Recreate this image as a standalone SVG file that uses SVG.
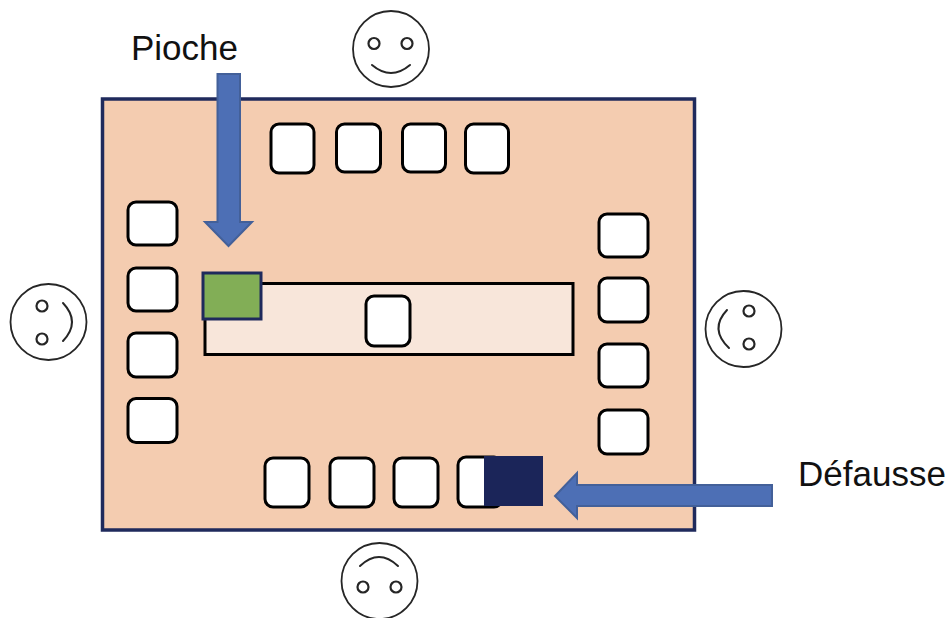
<svg xmlns="http://www.w3.org/2000/svg" width="948" height="618" viewBox="0 0 948 618">
<style>
.card{fill:#fff;stroke:#000;stroke-width:3}
.face{fill:#fff;stroke:#262626;stroke-width:1.8}
.eye{fill:none;stroke:#262626;stroke-width:2.200}
.mouth{fill:none;stroke:#262626;stroke-width:2;stroke-linecap:round}
.arrow{fill:#4d6fb5;stroke:#436099;stroke-width:2}
.label{font-family:"Liberation Sans",Arial,sans-serif;font-size:35px;fill:#111}
</style>
<rect width="948" height="618" fill="#fff"/>
<g id="table"><rect x="102.500" y="99" width="592" height="431" fill="#f4ccb0" stroke="#1f2a5c" stroke-width="3.500"/></g>
<g id="center"><rect x="205" y="283.500" width="368" height="71" fill="#f8e6da" stroke="#000" stroke-width="3"/></g>
<g id="cards-top">
<rect class="card" x="271" y="124" width="43" height="49" rx="8"/>
<rect class="card" x="336.500" y="124" width="44" height="48" rx="8"/>
<rect class="card" x="402.500" y="124" width="43" height="48" rx="8"/>
<rect class="card" x="465.500" y="124" width="43" height="49" rx="8"/>
</g>
<g id="cards-left">
<rect class="card" x="128" y="202" width="49" height="43" rx="8"/>
<rect class="card" x="128" y="268" width="49" height="43" rx="8"/>
<rect class="card" x="128" y="333" width="49" height="44" rx="8"/>
<rect class="card" x="128" y="398.500" width="49" height="44" rx="8"/>
</g>
<g id="cards-right">
<rect class="card" x="599" y="214" width="49" height="43" rx="8"/>
<rect class="card" x="599" y="278" width="49" height="44" rx="8"/>
<rect class="card" x="599" y="344" width="49" height="43" rx="8"/>
<rect class="card" x="599" y="410" width="49" height="44" rx="8"/>
</g>
<g id="cards-bottom">
<rect class="card" x="265" y="458" width="44" height="49" rx="8"/>
<rect class="card" x="330" y="458" width="44" height="49" rx="8"/>
<rect class="card" x="394" y="458" width="44" height="49" rx="8"/>
<rect class="card" x="458" y="457" width="44" height="50" rx="8"/>
</g>
<g id="center-card"><rect class="card" x="366" y="296" width="44" height="50" rx="8"/></g>
<g id="pioche"><rect x="203" y="273" width="58" height="46" fill="#82ae56" stroke="#1f2a5c" stroke-width="3"/></g>
<g id="defausse"><rect x="484" y="456" width="59" height="50" fill="#1b2559"/></g>
<g id="connectors">
<path class="arrow" d="M217.500 74H240V222H252L228.500 246L205 222H217.500Z"/>
<path class="arrow" d="M772 485V506H577V518L555 496L577 473V485Z"/>
</g>
<g id="face-top">
<circle class="face" cx="391" cy="49" r="38"/>
<circle class="eye" cx="374" cy="43.500" r="5.500"/><circle class="eye" cx="407" cy="43.500" r="5.500"/>
<path class="mouth" d="M372 65Q391 81 410 65"/>
</g>
<g id="face-left">
<circle class="face" cx="48.500" cy="322" r="38"/>
<circle class="eye" cx="42" cy="306" r="5.500"/><circle class="eye" cx="42" cy="339" r="5.500"/>
<path class="mouth" d="M63 303Q81 322 63 341"/>
</g>
<g id="face-right">
<circle class="face" cx="743.500" cy="329" r="38"/>
<circle class="eye" cx="749" cy="311" r="5.500"/><circle class="eye" cx="749" cy="344" r="5.500"/>
<path class="mouth" d="M727 310Q709 329 729 348"/>
</g>
<g id="face-bottom">
<circle class="face" cx="379.500" cy="581" r="38"/>
<circle class="eye" cx="363" cy="587" r="5.500"/><circle class="eye" cx="396" cy="587" r="5.500"/>
<path class="mouth" d="M360 566Q379 548 398 566"/>
</g>
<g id="labels">
<text class="label" x="131" y="60">Pioche</text>
<text class="label" x="798" y="486">Défausse</text>
</g>
</svg>
